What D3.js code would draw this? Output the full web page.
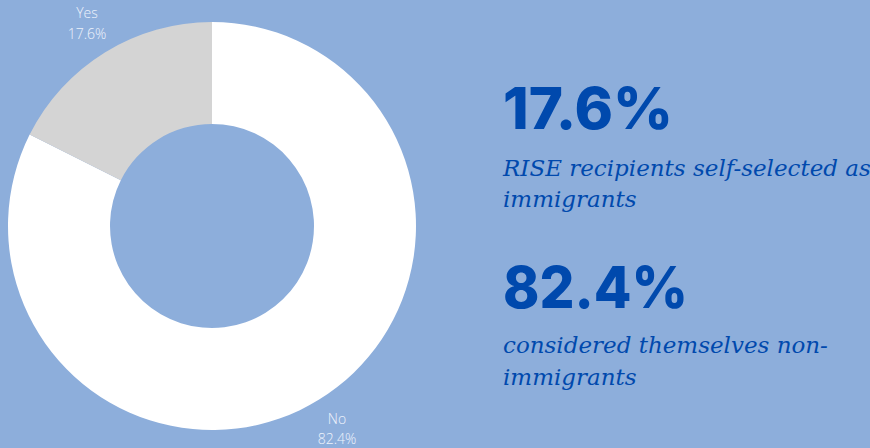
<!DOCTYPE html>
<html>
<head>
<meta charset="utf-8">
<script src="https://cdn.jsdelivr.net/npm/d3@7/dist/d3.min.js"></script>
<style>
  html, body { margin: 0; padding: 0; background: #8daedb; }
  svg { display: block; }
</style>
</head>
<body>
<svg id="chart" width="870" height="448"></svg>
<script>
// Data
const categories = ["No", "Yes"];
const values = [82.4, 17.6];
const sliceColors = ["#ffffff", "#d4d4d4"];
const headlines = ["17.6%", "82.4%"];
const captions = [
  ["RISE recipients self-selected as", "immigrants"],
  ["considered themselves non-", "immigrants"]
];

const svg = d3.select("#chart");
const W = 870, H = 448;
svg.append("rect").attr("width", W).attr("height", H).attr("fill", "#8daedb");

const cx = 212, cy = 226, outerR = 204, innerR = 102, labelR = 238;

const pie = d3.pie().value(d => d.value).sort(null);
const arcs = pie(categories.map((c, i) => ({ cat: c, value: values[i] })));
const arc = d3.arc().innerRadius(innerR).outerRadius(outerR);
const labelArc = d3.arc().innerRadius(labelR).outerRadius(labelR);

const g = svg.append("g").attr("transform", `translate(${cx},${cy})`);
g.selectAll("path.slice").data(arcs).enter().append("path")
  .attr("class", "slice")
  .attr("d", arc)
  .attr("fill", (d, i) => sliceColors[i]);

const lbl = g.selectAll("text.lbl").data(arcs).enter().append("text")
  .attr("class", "lbl")
  .attr("transform", d => `translate(${labelArc.centroid(d)})`)
  .attr("text-anchor", "middle")
  .attr("font-family", "'Open Sans', sans-serif")
  .attr("font-weight", 300)
  .attr("font-size", 14)
  .attr("fill", "#eef3fb");
lbl.append("tspan").attr("x", 0).attr("dy", -5).text(d => d.data.cat);
lbl.append("tspan").attr("x", 0).attr("dy", 20.5).text(d => d.data.value.toFixed(1) + "%");

// Right text
const blue = "#0049ad";
const tx = 503;
const headY = [129, 308];
const headW = [170, 185];
const capY = [[176, 207], [353, 385]];
headlines.forEach((h, i) => {
  svg.append("text")
    .attr("x", tx).attr("y", headY[i])
    .attr("font-family", "Inter, 'Open Sans', sans-serif")
    .attr("font-weight", 800)
    .attr("font-size", 58)
    .attr("fill", blue)
    .attr("textLength", headW[i])
    .attr("lengthAdjust", "spacingAndGlyphs")
    .text(h);
  captions[i].forEach((line, j) => {
    svg.append("text")
      .attr("x", tx).attr("y", capY[i][j])
      .attr("font-family", "'DejaVu Serif', serif")
      .attr("font-style", "italic")
      .attr("font-size", 23)
      .attr("fill", blue)
      .text(line);
  });
});
</script>
</body>
</html>
